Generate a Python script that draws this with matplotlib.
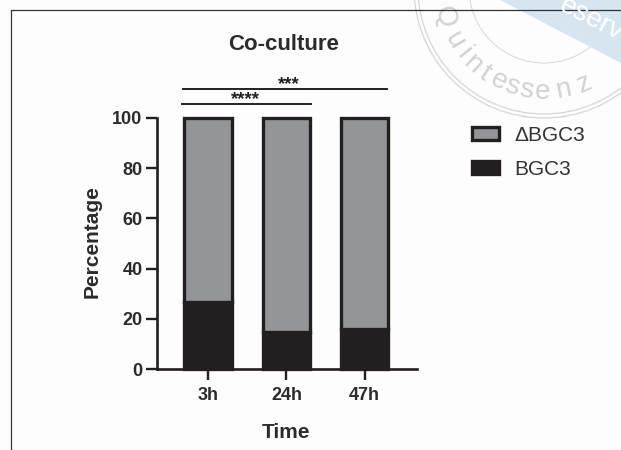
#!/usr/bin/env python3
import numpy as np
import matplotlib; matplotlib.use("Agg")
import matplotlib.pyplot as plt
from matplotlib.patches import Circle, Polygon

plt.rcParams["font.family"] = ["Liberation Sans", "DejaVu Sans"]

W, H = 621, 450
BLACK = "#231f20"
GRAY = "#939598"

times = ["3h", "24h", "47h"]
bgc3 = [26.7, 14.7, 16.0]
delta_bgc3 = [73.3, 85.3, 84.0]
y_ticks = [0, 20, 40, 60, 80, 100]

fig = plt.figure(figsize=(W / 100, H / 100), dpi=100, facecolor="#fdfdfd")

# page furniture + watermark, in pixel coords
bg = fig.add_axes([0, 0, 1, 1], zorder=0)
bg.set_xlim(0, W); bg.set_ylim(H, 0); bg.axis("off")
cx, cy = 544, -12
bg.add_patch(Circle((cx, cy), 130, fill=False, ec="#d6d6d6", lw=0.9))
bg.add_patch(Circle((cx, cy), 126, fill=False, ec="#d6d6d6", lw=0.9))
bg.add_patch(Circle((cx, cy), 75, fill=False, ec="#d6d6d6", lw=0.7))
bg.add_patch(Polygon([[500, 0], [W, 0], [W, 63]], color="#d7e5f1", lw=0, zorder=3))
bg.plot([11, 11, W], [H, 10, 10], color="#333333", lw=0.9, zorder=4)
bg.text(591, 19, "eserv", color="white", fontsize=20, rotation=-27,
        ha="center", va="center", zorder=5)
word = "Quintessenz"
angs = [164, 150, 141, 133, 125, 116, 108, 100, 90.5, 79, 67]
for ch, a in zip(word, angs):
    px = cx + 104 * np.cos(np.radians(a)); py = cy + 104 * np.sin(np.radians(a))
    bg.text(px, py, ch, color="#d2d2d2", fontsize=20, ha="center", va="center",
            rotation=90 - a)

ax = fig.add_axes([157 / W, 1 - 369 / H, 260 / W, 251 / H], zorder=1)
ax.patch.set_alpha(0)
x = np.arange(len(times))
lw = 2.4
b1 = ax.bar(x, bgc3, width=0.615, color=BLACK, edgecolor=BLACK, lw=lw, label="BGC3", clip_on=False)
b2 = ax.bar(x, delta_bgc3, bottom=bgc3, width=0.615, color=GRAY, edgecolor=BLACK, lw=lw, label="ΔBGC3", clip_on=False)

ax.set_xlim(-0.66, 2.673); ax.set_ylim(0, 100)
ax.set_xticks(x); ax.set_xticklabels(times)
ax.set_yticks(y_ticks)
for s in ("top", "right"):
    ax.spines[s].set_visible(False)
for s in ("left", "bottom"):
    ax.spines[s].set_linewidth(1.9); ax.spines[s].set_color(BLACK)
ax.tick_params(length=8, width=1.7, color=BLACK, labelsize=13, labelcolor="#2b2b2b")
ax.tick_params(axis="y", pad=2.5)
ax.tick_params(axis="x", pad=5)
for t in ax.get_xticklabels() + ax.get_yticklabels():
    t.set_fontweight("bold")

bg.text(92, 242, "Percentage", rotation=90, ha="center", va="center",
        fontsize=15, fontweight="bold", color="#2b2b2b")
bg.text(286, 433, "Time", ha="center", va="center", fontsize=15, fontweight="bold", color="#2b2b2b")
bg.text(284, 44, "Co-culture", ha="center", va="center", fontsize=16, fontweight="bold", color="#2b2b2b")

# significance bars
bg.plot([183, 387], [89, 89], color=BLACK, lw=1.4)
bg.plot([182, 311], [104, 104], color=BLACK, lw=1.4)
bg.text(289, 85, "***", ha="center", va="center", fontsize=13.5, fontweight="bold", color=BLACK)
bg.text(245, 100, "****", ha="center", va="center", fontsize=13.5, fontweight="bold", color=BLACK)

ax.legend([b2, b1], ["ΔBGC3", "BGC3"], loc="upper left", bbox_to_anchor=(472 / W, 1 - 126 / H),
          bbox_transform=fig.transFigure, frameon=False, fontsize=15, handlelength=1.3,
          handleheight=0.6, labelspacing=0.72, handletextpad=0.72, borderpad=0, borderaxespad=0,
          labelcolor="#333333")

fig.savefig("out.png", dpi=100, facecolor=fig.get_facecolor())
